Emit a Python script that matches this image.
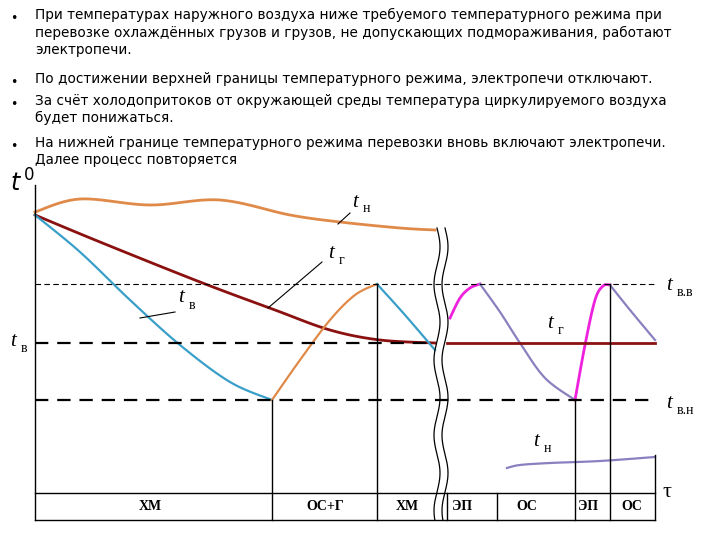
import matplotlib.pyplot as plt
import numpy as np

bullets = [
    "При температурах наружного воздуха ниже требуемого температурного режима при\nперевозке охлаждённых грузов и грузов, не допускающих подмораживания, работают\nэлектропечи.",
    "По достижении верхней границы температурного режима, электропечи отключают.",
    "За счёт холодопритоков от окружающей среды температура циркулируемого воздуха\nбудет понижаться.",
    "На нижней границе температурного режима перевозки вновь включают электропечи.\nДалее процесс повторяется",
]
bullet_y = [12, 76, 98, 140]

# curves (pixel space of the diagram)
tn_x = [35, 80, 150, 220, 290, 340, 400, 435]
tn_y = [212, 199, 205, 200, 215, 222, 228, 230]
tg_x = [35, 100, 200, 275, 330, 380, 435]
tg_y = [215, 242, 282, 310, 330, 340, 343]
tv1_x = [35, 80, 130, 180, 230, 272]
tv1_y = [215, 252, 300, 345, 382, 400]
heat1_x = [272, 300, 330, 355, 377]
heat1_y = [400, 360, 320, 295, 284]
tv2_x = [377, 405, 435]
tv2_y = [284, 315, 350]
heat2_x = [450, 460, 470, 480]
heat2_y = [318, 298, 288, 284]
cool1_x = [480, 500, 520, 545, 575]
cool1_y = [284, 312, 343, 378, 400]
heat3_x = [575, 585, 595, 603, 610]
heat3_y = [400, 345, 300, 286, 285]
cool2_x = [610, 630, 655]
cool2_y = [285, 310, 340]
tn2_x = [507, 520, 550, 600, 655]
tn2_y = [468, 465, 463, 461, 457]

modes = ["ХМ", "ОС+Г", "ХМ", "ЭП", "ОС", "ЭП", "ОС"]
mode_x = [150, 325, 407, 462, 527, 588, 632]
dividers = [272, 377, 447, 497, 575, 610, 655]

fig = plt.figure(figsize=(7.2, 5.4), dpi=100)
ax = fig.add_axes([0, 0, 1, 1])
ax.set_xlim(0, 720)
ax.set_ylim(540, 0)
ax.axis("off")

for t, y in zip(bullets, bullet_y):
    ax.text(10, y, "•", fontsize=9, va="top")
    ax.text(35, y - 4, t, fontsize=9.8, va="top", linespacing=1.3)

def smooth(x, y, n=12):
    # Catmull-Rom through the points
    p = np.column_stack([x, y]).astype(float)
    p = np.vstack([p[0], p, p[-1]])
    out = []
    for i in range(1, len(p) - 2):
        p0, p1, p2, p3 = p[i - 1], p[i], p[i + 1], p[i + 2]
        for t in np.linspace(0, 1, n, endpoint=False):
            out.append(0.5 * (2 * p1 + (-p0 + p2) * t + (2 * p0 - 5 * p1 + 4 * p2 - p3) * t ** 2
                              + (-p0 + 3 * p1 - 3 * p2 + p3) * t ** 3))
    out.append(p[-2])
    out = np.array(out)
    return out[:, 0], out[:, 1]

orange = "#e08a4a"; dred = "#8b1010"; blue = "#3a9fc8"; mag = "#ee22dd"; purp = "#8a80c0"
curves = [(tn_x, tn_y, orange, 2), (tg_x, tg_y, dred, 2), (tv1_x, tv1_y, blue, 1.6),
          (heat1_x, heat1_y, orange, 1.6), (tv2_x, tv2_y, blue, 1.6), (heat2_x, heat2_y, mag, 2),
          (cool1_x, cool1_y, purp, 1.6), (heat3_x, heat3_y, mag, 2), (cool2_x, cool2_y, purp, 1.6),
          (tn2_x, tn2_y, purp, 1.6)]
for x, y, c, w in curves:
    ax.plot(*smooth(x, y), color=c, lw=w)

# levels
ax.plot([35, 655], [284, 284], color="k", lw=0.8, ls=(0, (5, 3)))
ax.plot([35, 435], [343, 343], color="k", lw=1.6, ls=(0, (6, 4)))
ax.plot([447, 655], [343, 343], color=dred, lw=2)
ax.plot([35, 655], [400, 400], color="k", lw=1.6, ls=(0, (6, 4)))

# axes & frame
ax.plot([35, 35], [185, 520], color="k", lw=1)
ax.plot([35, 655], [520, 520], color="k", lw=1)
ax.plot([35, 655], [493, 493], color="k", lw=1)
for x in dividers:
    top = 284 if x in (377, 610) else (400 if x in (272, 575) else 493)
    if x == 655:
        top = 455
    ax.plot([x, x], [top, 520], color="k", lw=1)
for x, m in zip(mode_x, modes):
    ax.text(x, 507, m, ha="center", va="center", fontsize=10, fontweight="bold", family="Liberation Serif")

# break
yy = np.linspace(228, 520, 200)
for off in (437, 445):
    ax.plot(off + 3 * np.sin((yy - 228) / 12), yy, color="k", lw=0.9)

sf = dict(family="Liberation Serif", style="italic", fontsize=15)
ax.text(10, 192, r"$t^{\,0}$", fontsize=17)
ax.text(352, 207, "t", **sf); ax.text(363, 212, "н", fontsize=10, family="Liberation Serif")
ax.plot([350, 338], [213, 224], color="k", lw=0.8)
ax.text(328, 258, "t", **sf); ax.text(339, 264, "г", fontsize=10, family="Liberation Serif")
ax.plot([322, 268], [262, 308], color="k", lw=0.8)
ax.text(178, 302, "t", **sf); ax.text(189, 309, "в", fontsize=10, family="Liberation Serif")
ax.plot([175, 140], [312, 318], color="k", lw=0.8)
ax.text(10, 346, "t", **sf); ax.text(21, 352, "в", fontsize=10, family="Liberation Serif")
ax.text(666, 290, "t", **sf); ax.text(677, 296, "в.в", fontsize=10, family="Liberation Serif")
ax.text(666, 408, "t", **sf); ax.text(677, 414, "в.н", fontsize=10, family="Liberation Serif")
ax.text(547, 328, "t", **sf); ax.text(558, 334, "г", fontsize=10, family="Liberation Serif")
ax.text(533, 446, "t", **sf); ax.text(544, 452, "н", fontsize=10, family="Liberation Serif")
ax.text(662, 497, "τ", fontsize=16, family="Liberation Serif")

fig.savefig("out.png", dpi=100)
